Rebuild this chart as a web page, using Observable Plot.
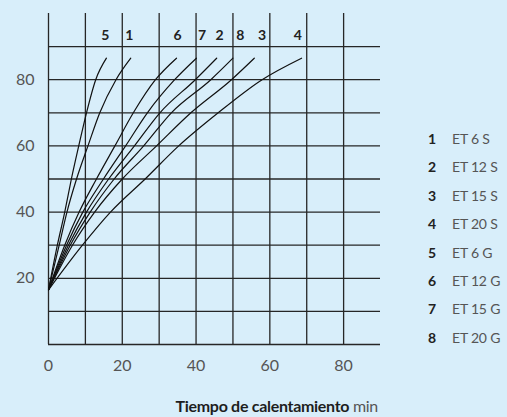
<!DOCTYPE html>
<html>
<head>
<meta charset="utf-8">
<script src="https://cdn.jsdelivr.net/npm/d3@7"></script>
<script src="https://cdn.jsdelivr.net/npm/@observablehq/plot@0.6"></script>
<style>
  html, body { margin: 0; padding: 0; background: #d8eefa; }
  #wrap { position: relative; width: 507px; height: 417px; font-family: Lato, "Open Sans", sans-serif; overflow: hidden; }
  #chart { position: absolute; left: 0; top: 0; }
  .lg-num { position: absolute; width: 20px; text-align: right; font-weight: 700; color: #222; font-size: 14px; }
  .lg-txt { position: absolute; color: #555; font-size: 14px; white-space: nowrap; letter-spacing: -0.2px; }
  #xtitle { position: absolute; right: 129px; top: 396px; font-size: 16px; color: #555; white-space: nowrap; letter-spacing: -0.3px; }
  #xtitle b { color: #1e1e1e; font-weight: 700; }
</style>
</head>
<body>
<div id="wrap">
  <div id="chart"></div>
  <div id="legend"></div>
  <div id="xtitle"><b>Tiempo de calentamiento</b> min</div>
</div>
<script>
// Curve ids and legend names
const curveIds = ["1", "2", "3", "4", "5", "6", "7", "8"];
const curveNames = ["ET 6 S", "ET 12 S", "ET 15 S", "ET 20 S", "ET 6 G", "ET 12 G", "ET 15 G", "ET 20 G"];

// Temperature levels (y) at which each curve's time (x) was read
const yLevels = [16.5, 30, 40, 50, 60, 70, 80, 86.5];
// Time values (min) at those levels, per curve
const time1 = [0, 2.9, 5.0, 7.6, 10.7, 13.9, 18.3, 22.3];
const time2 = [0, 5.4, 10.3, 16.3, 23.3, 30.2, 39.8, 45.6];
const time3 = [0, 6.5, 12.5, 20.0, 29.3, 38.6, 49.6, 55.8];
const time4 = [0, 9.2, 16.8, 26.2, 35.3, 46.0, 57.9, 68.6];
const time5 = [0, 2.4, 4.4, 6.2, 8.2, 10.3, 12.8, 15.7];
const time6 = [0, 4.4, 8.3, 13.0, 18.0, 23.0, 29.0, 34.7];
const time7 = [0, 4.9, 9.3, 14.9, 20.9, 26.8, 34.2, 40.1];
const time8 = [0, 5.9, 11.3, 17.8, 25.8, 33.3, 44.0, 50.0];
const curveTimes = [time1, time2, time3, time4, time5, time6, time7, time8];

// Curve number labels along the top
const topLabelIds = ["5", "1", "6", "7", "2", "8", "3", "4"];
const topLabelX = [15.4, 21.9, 35.0, 41.6, 46.4, 52.0, 57.9, 67.6];
const topLabelY = 93.2;

// Grid and tick values
const xGrid = [0, 10, 20, 30, 40, 50, 60, 70, 80];
const yGrid = [0, 10, 20, 30, 40, 50, 60, 70, 80, 90];
const xTicks = [0, 20, 40, 60, 80];
const yTicks = [20, 40, 60, 80];

const lineData = [];
curveIds.forEach((id, i) => {
  curveTimes[i].forEach((t, j) => lineData.push({id, x: t, y: yLevels[j]}));
});
const topLabels = topLabelIds.map((t, i) => ({text: t, x: topLabelX[i], y: topLabelY}));

const chart = Plot.plot({
  width: 507,
  height: 380,
  marginLeft: 48,
  marginRight: 127,
  marginTop: 13,
  marginBottom: 36,
  x: {domain: [0, 90]},
  y: {domain: [0, 100]},
  style: {background: "transparent", fontFamily: "Lato, 'Open Sans', sans-serif", color: "#555"},
  marks: [
    Plot.ruleY(yGrid, {x1: 0, x2: 90, stroke: "#262626", strokeWidth: 1.3}),
    Plot.ruleX(xGrid, {y1: 0, y2: 100, stroke: "#262626", strokeWidth: 1.3}),
    Plot.line(lineData, {x: "x", y: "y", z: "id", curve: "monotone-x", stroke: "#111", strokeWidth: 1.2}),
    Plot.text(topLabels, {x: "x", y: "y", text: "text", fontSize: 14, fontWeight: 700, fill: "#222"}),
    Plot.axisX({ticks: xTicks, tickSize: 0, tickPadding: 15, fontSize: 16, label: null}),
    Plot.axisY({ticks: yTicks, tickSize: 0, tickPadding: 14, fontSize: 16, label: null})
  ]
});
document.getElementById("chart").appendChild(chart);

// Legend
const legend = document.getElementById("legend");
const legendTop = 130, legendStep = 28.4;
curveIds.forEach((id, i) => {
  const n = document.createElement("div");
  n.className = "lg-num";
  n.textContent = id;
  n.style.left = "416px";
  n.style.top = (legendTop + i * legendStep) + "px";
  legend.appendChild(n);
  const t = document.createElement("div");
  t.className = "lg-txt";
  t.textContent = curveNames[i];
  t.style.left = "452px";
  t.style.top = (legendTop + i * legendStep) + "px";
  legend.appendChild(t);
});
</script>
</body>
</html>
